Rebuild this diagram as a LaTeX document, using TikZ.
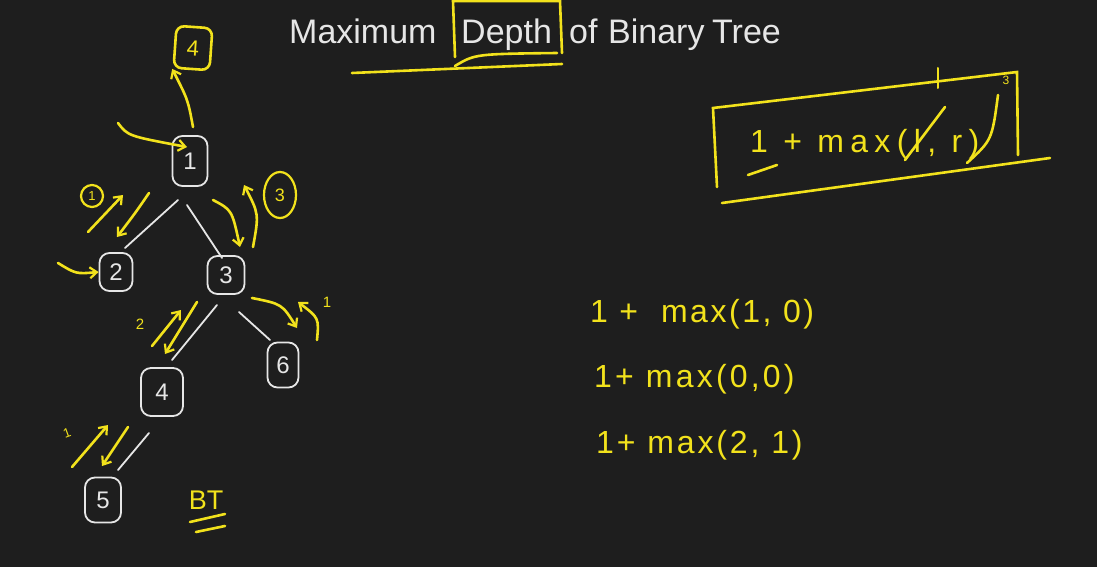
\documentclass[tikz,border=0pt]{standalone}
\usepackage{fontspec}
\setmainfont{Liberation Sans}
\usetikzlibrary{arrows.meta,shapes.geometric}
\definecolor{bg}{HTML}{1E1E1E}
\definecolor{chalk}{HTML}{E6E6E6}
\definecolor{hl}{HTML}{F2E21C}
\tikzset{
  tnode/.style={draw=chalk, line width=1.8pt, rounded corners=10pt, text=chalk, font=\fontsize{24}{26}\selectfont, inner sep=0pt},
  tedge/.style={draw=chalk, line width=1.8pt, line cap=round},
  ann/.style={draw=hl, line width=2.6pt, line cap=round},
  annar/.style={ann, -{Straight Barb[length=7pt,width=11pt,line width=2.2pt]}},
  ytext/.style={text=hl, inner sep=0pt},
  wtext/.style={text=chalk, inner sep=0pt},
  ttl/.style={wtext, font=\fontsize{34}{36}\selectfont, anchor=base west},
  eqn/.style={ytext, anchor=base west},
}
\begin{document}
\begin{tikzpicture}[x=1pt,y=-1pt]
\fill[bg] (0,0) rectangle (1097,567);
\useasboundingbox (0,0) rectangle (1097,567);

% ---- title ----
\node[ttl] (tm) at (289,44) {Maximum};
\node[ttl] (td) at (461,44) {Depth};
\node[ttl] (to) at (569,44) {of};
\node[ttl] (tb) at (608,44) {Binary};
\node[ttl] (tt) at (712,44) {Tree};
\coordinate (dbl) at (453,1); \coordinate (dbl2) at (455,57);
\coordinate (dbr) at (560,1); \coordinate (dbr2) at (562,53);
\draw[ann] (dbl2) -- (dbl) -- (dbr) -- (dbr2);
\coordinate (ul1) at (352,73); \coordinate (ul2) at (562,64);
\draw[ann] (ul1) -- (ul2);
\coordinate (ud1) at (455,66); \coordinate (ud2) at (557,53);
\draw[ann] (ud1) .. controls (475,54) .. (ud2);

% ---- tree nodes ----
\node[tnode, minimum width=35pt, minimum height=50pt] (n1) at (190,161) {1};
\node[tnode, minimum width=33pt, minimum height=38pt] (n2) at (116,272) {2};
\node[tnode, minimum width=37pt, minimum height=38pt] (n3) at (226,275) {3};
\node[tnode, minimum width=42pt, minimum height=48pt] (n4) at (162,392) {4};
\node[tnode, minimum width=31pt, minimum height=45pt] (n6) at (283,365) {6};
\node[tnode, minimum width=36pt, minimum height=45pt] (n5) at (103,500) {5};

\draw[tedge] ([shift={(-12,39)}]n1.center) -- ([shift={(9,-24)}]n2.center);
\draw[tedge] ([shift={(-3,44)}]n1.center) -- ([shift={(-4,-17)}]n3.center);
\draw[tedge] ([shift={(-9,30)}]n3.center) -- ([shift={(10,-32)}]n4.center);
\draw[tedge] ([shift={(13,37)}]n3.center) -- ([shift={(-13,-25)}]n6.center);
\draw[tedge] ([shift={(-13,41)}]n4.center) -- ([shift={(15,-30)}]n5.center);

% ---- yellow annotations on tree ----
\node[draw=hl, line width=2.6pt, rounded corners=8pt, minimum width=36pt, minimum height=42pt, text=hl, font=\fontsize{22}{24}\selectfont, inner sep=0pt, rotate=-4] (ans) at (193,48) {4};
\coordinate (up0) at (193,127);
\draw[annar] (up0) .. controls (188,100) .. (ans.south west);
\coordinate (in1) at (118,123);
\draw[annar] (in1) .. controls (128,136) .. ([shift={(-3,-14)}]n1.center);

\node[draw=hl, circle, line width=2.2pt, text=hl, inner sep=0pt, minimum size=22pt, font=\fontsize{13}{14}\selectfont] (c1) at (92,196) {1};
\coordinate (a1s) at (88,232); \coordinate (a1e) at (123,195);
\draw[annar] (a1s) -- (a1e);
\coordinate (a2s) at (149,193); \coordinate (a2e) at (117,237);
\draw[annar] (a2s) .. controls (136,212) .. (a2e);
\coordinate (in2) at (58,263);
\draw[annar] (in2) .. controls (76,274) .. (n2.west);

\coordinate (a3s) at (213,200); \coordinate (a3e) at (240,247);
\draw[annar] (a3s) .. controls (232,210) .. (a3e);
\coordinate (a4s) at (253,247); \coordinate (a4e) at (244,185);
\draw[annar] (a4s) .. controls (259,214) .. (a4e);
\node[draw=hl, ellipse, line width=2.2pt, text=hl, inner sep=0pt, minimum width=32pt, minimum height=46pt, font=\fontsize{18}{20}\selectfont] (c3) at (280,195) {3};

\node[ytext, font=\fontsize{15}{16}\selectfont] (l2) at (140,324) {2};
\coordinate (a5s) at (152,346); \coordinate (a5e) at (181,310);
\draw[annar] (a5s) -- (a5e);
\coordinate (a6s) at (197,302); \coordinate (a6e) at (165,354);
\draw[annar] (a6s) -- (a6e);

\coordinate (a7s) at (252,298); \coordinate (a7e) at (297,328);
\draw[annar] (a7s) .. controls (282,304) .. (a7e);
\coordinate (a8s) at (317,340); \coordinate (a8e) at (298,302);
\draw[annar] (a8s) .. controls (319,318) .. (a8e);
\node[ytext, font=\fontsize{15}{16}\selectfont] (l6) at (327,302) {1};

\node[ytext, font=\fontsize{13}{14}\selectfont, rotate=20] (l5) at (67,433) {1};
\coordinate (a9s) at (72,467); \coordinate (a9e) at (108,425);
\draw[annar] (a9s) -- (a9e);
\coordinate (a10s) at (128,427); \coordinate (a10e) at (102,466);
\draw[annar] (a10s) -- (a10e);

\node[ytext, font=\fontsize{27}{29}\selectfont] (bt) at (206,500) {BT};
\coordinate (bu1) at (190,522); \coordinate (bu2) at (225,514);
\coordinate (bu3) at (196,532); \coordinate (bu4) at (225,526);
\draw[ann] (bu1) -- (bu2);
\draw[ann] (bu3) -- (bu4);

% ---- formula box ----
\coordinate (fb1) at (713,108); \coordinate (fb2) at (1017,72);
\coordinate (fb3) at (717,187); \coordinate (fb4) at (1018,155);
\coordinate (fb5) at (722,203); \coordinate (fb6) at (1050,158);
\draw[ann] (fb3) -- (fb1) -- (fb2) -- (fb4);
\draw[ann] (fb5) -- (fb6);
\coordinate (tk1) at (938,68); \coordinate (tk2) at (938,88);
\draw[ann, line width=2pt] (tk1) -- (tk2);
\node[ytext, font=\fontsize{12}{13}\selectfont] (f3) at (1006,80) {3};
\node[eqn, font=\fontsize{32}{34}\selectfont\addfontfeature{LetterSpace=20}] (ff) at (750,153) {1 + max(l, r)};
\coordinate (fu1) at (748,175); \coordinate (fu2) at (777,165);
\draw[ann] (fu1) -- (fu2);
\coordinate (s1a) at (905,160); \coordinate (s1b) at (945,107);
\draw[ann] (s1a) -- (s1b);
\coordinate (s2a) at (967,163); \coordinate (s2b) at (998,95);
\draw[ann] (s2a) .. controls (992,140) .. (s2b);

% ---- equations ----
\node[eqn, font=\fontsize{32}{34}\selectfont\addfontfeature{LetterSpace=8}] (e1) at (590,322) {1 +\ \ max(1, 0)};
\node[eqn, font=\fontsize{32}{34}\selectfont\addfontfeature{LetterSpace=10}] (e2) at (594,387) {1+ max(0,0)};
\node[eqn, font=\fontsize{32}{34}\selectfont\addfontfeature{LetterSpace=9}] (e3) at (596,453) {1+ max(2, 1)};
\end{tikzpicture}
\end{document}
